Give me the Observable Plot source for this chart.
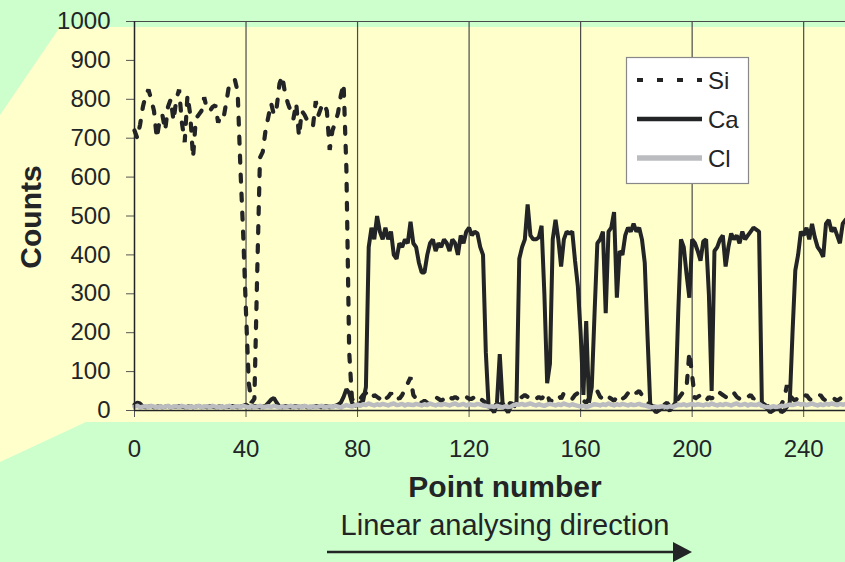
<!DOCTYPE html>
<html>
<head>
<meta charset="utf-8">
<script src="https://cdn.jsdelivr.net/npm/d3@7"></script>
<script src="https://cdn.jsdelivr.net/npm/@observablehq/plot@0.6"></script>
<style>
  html, body { margin: 0; padding: 0; background: #ccffcc; }
  #wrap { position: relative; width: 845px; height: 562px; overflow: hidden; background: #ccffcc; font-family: "Liberation Sans", Arial, sans-serif; }
  #panel { position: absolute; left: 0; top: 0; width: 845px; height: 562px; background: #ffffcc;
    clip-path: polygon(60px 27px, 845px 27px, 845px 422px, 86px 422px, 0px 462px, 0px 115px); }
  #chart { position: absolute; left: 0; top: 0; }
  #overlay { position: absolute; left: 0; top: 0; }
</style>
</head>
<body>
<div id="wrap">
  <div id="panel"></div>
  <div id="chart"></div>
  <svg id="overlay" width="845" height="562"></svg>
</div>
<script>
const seriesNames = ["Si", "Ca", "Cl"];
const xTicks = [0, 40, 80, 120, 160, 200, 240];
const yTicks = [0, 100, 200, 300, 400, 500, 600, 700, 800, 900, 1000];

const si = [
  720,700,735,780,810,825,800,770,700,745,
  760,720,780,800,745,800,825,740,690,810,
  760,650,750,760,770,805,775,770,780,785,
  740,760,755,795,840,845,850,820,620,450,
  250,70,20,30,350,650,665,720,755,790,
  760,780,840,860,815,790,770,750,790,705,
  770,760,745,740,730,795,760,780,790,770,
  670,720,740,765,810,840,620,150,30,20,
  25,30,40,45,35,30,40,35,30,40,
  30,35,45,30,35,30,40,55,70,85,
  40,30,35,20,25,20,25,30,35,30,
  25,30,40,35,30,35,30,25,30,35,
  30,30,35,40,30,25,20,10,15,20,
  10,15,20,25,15,20,10,15,30,35,
  40,35,30,25,30,35,30,40,45,20,
  30,35,40,30,45,40,35,30,40,45,
  30,25,20,30,40,45,50,35,30,40,
  35,30,25,35,40,30,35,45,40,50,
  45,50,40,30,20,15,10,10,15,10,
  15,20,10,15,20,30,40,50,60,150,
  90,30,35,40,30,25,35,30,40,35,
  45,40,35,30,40,45,35,30,25,30,
  35,40,30,35,30,20,15,10,15,10,
  5,10,15,30,65,40,30,25,35,40,
  35,40,30,25,30,35,40,30,25,30,
  35,30,25,30,35,30
];

const ca = [
  15,20,18,10,8,10,12,8,10,12,
  8,10,12,8,10,9,12,10,8,10,
  12,8,10,12,9,10,8,12,10,8,
  10,12,8,10,9,12,10,8,10,12,
  15,10,8,12,10,8,10,12,20,28,
  32,20,10,8,12,10,8,10,12,8,
  10,12,8,10,9,12,10,8,10,12,
  8,10,12,15,20,35,55,45,20,12,
  15,20,25,60,420,470,440,500,460,440,
  470,440,460,400,390,430,420,440,430,485,
  430,420,380,355,355,400,430,440,410,430,
  420,440,430,410,440,430,400,450,430,460,
  470,450,460,455,420,400,150,10,5,-5,
  20,145,20,5,-5,10,15,20,390,420,
  440,530,450,440,440,445,475,300,70,120,
  440,490,440,370,440,460,455,460,385,320,
  200,40,230,20,60,250,430,440,460,250,
  460,470,510,290,410,400,450,470,460,480,
  460,470,440,380,190,10,5,-5,0,5,
  10,5,0,10,20,250,440,420,350,290,
  440,430,410,385,435,440,300,50,410,420,
  440,450,370,420,455,440,450,430,460,440,
  450,460,470,465,460,20,10,5,-5,0,
  5,10,-5,0,10,20,200,360,400,460,
  450,470,440,480,445,420,410,395,480,490,
  460,470,450,430,480,490
];

const cl = [
  10,12,8,10,11,9,12,10,8,11,
  9,10,12,8,10,11,9,12,10,8,
  11,9,10,12,8,10,11,9,12,10,
  8,11,9,10,12,8,10,11,9,12,
  10,8,11,9,10,12,8,10,11,9,
  12,10,8,11,9,10,12,8,10,11,
  9,12,10,8,11,9,10,12,8,10,
  11,9,12,10,8,11,14,12,10,13,
  15,12,16,14,18,15,13,16,14,17,
  15,13,16,18,14,15,17,13,16,15,
  14,17,15,13,16,14,18,15,13,16,
  14,17,15,13,16,18,14,15,17,13,
  16,15,14,17,15,13,12,10,11,9,
  12,10,8,11,9,10,14,16,15,17,
  14,16,18,15,13,16,14,12,15,17,
  15,13,16,14,18,15,13,16,14,12,
  10,12,9,11,14,16,15,13,16,14,
  18,15,13,16,14,17,15,13,16,14,
  15,17,14,13,11,9,8,10,9,11,
  10,8,11,9,12,15,14,16,13,15,
  17,14,16,15,13,16,14,18,15,13,
  16,14,17,15,13,16,18,14,15,17,
  13,16,15,14,17,12,10,9,8,11,
  9,10,12,11,13,15,14,16,18,15,
  17,14,16,18,15,13,16,14,17,15,
  18,16,14,17,15,16
];

const ink = "#222426";
const grey = "#babcbf";
const font = "'Liberation Sans', Arial, sans-serif";

const idx = si.map((_, i) => i);

const chart = Plot.plot({
  width: 845,
  height: 562,
  marginLeft: 134,
  marginRight: 0,
  marginTop: 21,
  marginBottom: 152,
  x: { domain: [0, 255] },
  y: { domain: [0, 1000] },
  style: { background: "transparent", fontFamily: font, fontSize: "24px", color: ink, overflow: "visible" },
  marks: [
    Plot.ruleX(xTicks.slice(1), { stroke: "#4a4a4a", strokeWidth: 1.2 }),
    Plot.ruleY([1000], { stroke: "#4a4a4a", strokeWidth: 1.2 }),
    Plot.axisY({ ticks: yTicks, tickFormat: d => String(d), tickSize: 8, tickPadding: 16, label: null, fontSize: 24, stroke: "#555", strokeOpacity: 1 }),
    Plot.axisX({ ticks: xTicks, tickFormat: d => String(d), tickSize: 7, tickPadding: 22, label: null, fontSize: 24, stroke: "#555", strokeOpacity: 1 }),
    Plot.line(idx, { x: d => d, y: d => si[d], stroke: ink, strokeWidth: 4.2, strokeDasharray: "7,12", strokeLinejoin: "miter" }),
    Plot.line(idx, { x: d => d, y: d => ca[d], stroke: ink, strokeWidth: 4, strokeLinejoin: "miter" }),
    Plot.line(idx, { x: d => d, y: d => cl[d], stroke: grey, strokeWidth: 4.5 }),
    Plot.ruleX([0], { stroke: ink, strokeWidth: 1.5 }),
    Plot.ruleY([0], { stroke: ink, strokeWidth: 1.5 })
  ]
});
document.getElementById("chart").appendChild(chart);

// Annotations: axis titles, direction arrow, legend
const ov = d3.select("#overlay").style("font-family", font);
ov.append("text").attr("transform", "translate(41,217) rotate(-90)")
  .attr("text-anchor", "middle").attr("font-size", 30).attr("font-weight", "bold").attr("fill", ink).text("Counts");
ov.append("text").attr("x", 505).attr("y", 497).attr("text-anchor", "middle")
  .attr("font-size", 30).attr("font-weight", "bold").attr("fill", ink).text("Point number");
ov.append("text").attr("x", 505).attr("y", 535).attr("text-anchor", "middle")
  .attr("font-size", 29).attr("fill", ink).text("Linear analysing direction");
ov.append("line").attr("x1", 327).attr("x2", 676).attr("y1", 552).attr("y2", 552)
  .attr("stroke", ink).attr("stroke-width", 2.5);
ov.append("path").attr("d", "M673,542 L692,552 L673,562 Z").attr("fill", ink);

const lg = ov.append("g");
lg.append("rect").attr("x", 626.5).attr("y", 57.5).attr("width", 122).attr("height", 126)
  .attr("fill", "#fff").attr("stroke", "#888").attr("stroke-width", 1.2);
const styles = [
  { stroke: ink, w: 4, dash: "6,14" },
  { stroke: ink, w: 4.3, dash: null },
  { stroke: grey, w: 5.5, dash: null }
];
seriesNames.forEach((name, i) => {
  const y = 80 + i * 39;
  const l = lg.append("line").attr("x1", 637).attr("x2", 702).attr("y1", y).attr("y2", y)
    .attr("stroke", styles[i].stroke).attr("stroke-width", styles[i].w);
  if (styles[i].dash) l.attr("stroke-dasharray", styles[i].dash);
  lg.append("text").attr("x", 708).attr("y", y + 8.5).attr("font-size", 24).attr("fill", ink).text(name);
});
</script>
</body>
</html>
